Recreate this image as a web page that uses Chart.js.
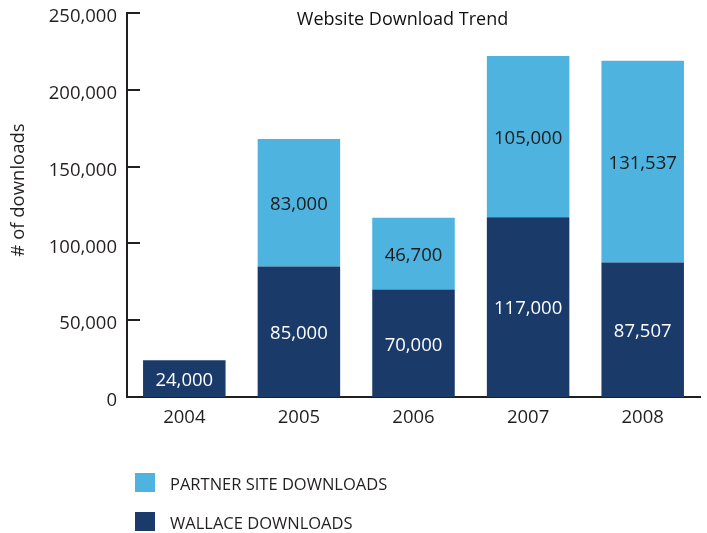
<!DOCTYPE html>
<html>
<head>
<meta charset="utf-8">
<title>Website Download Trend</title>
<script src="https://cdn.jsdelivr.net/npm/chart.js@4/dist/chart.umd.min.js"></script>
<style>
    html, body { margin: 0; padding: 0; background: #fff; }
    #wrap { position: relative; width: 707px; height: 533px; }
</style>
</head>
<body>
<div id="wrap"><canvas id="downloadChart" width="707" height="533"></canvas></div>
<script>
// --- DATA ---
const years = ['2004', '2005', '2006', '2007', '2008'];
const wallaceDownloads = [24000, 85000, 70000, 117000, 87507];
const partnerDownloads = [null, 83000, 46700, 105000, 131537];
const yMax = 250000;
const yStep = 50000;

const FONT = '"Open Sans", "Noto Sans", sans-serif';
const DARK_BLUE = '#1a3b6a';
const LIGHT_BLUE = '#4fb3e0';
const INK = '#231f20';

const fmt = v => Number(v).toLocaleString('en-US');

// --- PLUGINS ---
// small tick marks pointing into the plot
const innerTicks = {
    id: 'innerTicks',
    afterDraw(chart) {
        const { ctx, chartArea, scales } = chart;
        ctx.save();
        ctx.strokeStyle = INK;
        ctx.lineWidth = 2;
        scales.y.ticks.forEach(t => {
            const y = Math.round(scales.y.getPixelForValue(t.value));
            ctx.beginPath();
            ctx.moveTo(chartArea.left, y);
            ctx.lineTo(chartArea.left + 13, y);
            ctx.stroke();
        });
        ctx.restore();
    }
};

// values printed in the middle of each segment
const segmentLabels = {
    id: 'segmentLabels',
    afterDatasetsDraw(chart) {
        const { ctx } = chart;
        ctx.save();
        ctx.font = '18.5px ' + FONT;
        ctx.textAlign = 'center';
        ctx.textBaseline = 'middle';
        chart.data.datasets.forEach((ds, i) => {
            const meta = chart.getDatasetMeta(i);
            meta.data.forEach((bar, j) => {
                const v = ds.data[j];
                if (v == null) return;
                ctx.fillStyle = ds.labelColor;
                ctx.fillText(fmt(v), bar.x, (bar.y + bar.base) / 2 + 2);
            });
        });
        ctx.restore();
    }
};

// title, y axis title and legend
const extras = {
    id: 'extras',
    afterDraw(chart) {
        const { ctx, chartArea } = chart;
        ctx.save();
        ctx.fillStyle = '#111';
        ctx.textAlign = 'center';
        ctx.textBaseline = 'middle';
        ctx.font = '18px ' + FONT;
        ctx.fillText('Website Download Trend', (chartArea.left + chartArea.right) / 2 - 11, 20);

        ctx.fillStyle = INK;
        ctx.font = '18.5px ' + FONT;
        ctx.translate(19, 190);
        ctx.rotate(-Math.PI / 2);
        ctx.fillText('# of downloads', 0, 0);
        ctx.restore();

        // legend, top item is the upper stack
        ctx.save();
        ctx.font = '16.5px ' + FONT;
        ctx.textBaseline = 'middle';
        ctx.textAlign = 'left';
        const items = [...chart.data.datasets].reverse();
        items.forEach((ds, k) => {
            const y = 483 + k * 39;
            ctx.fillStyle = ds.backgroundColor;
            ctx.fillRect(135, y - 10, 20, 19);
            ctx.fillStyle = INK;
            ctx.fillText(ds.label, 170, y + 2);
        });
        ctx.restore();
    }
};

// --- CHART ---
function renderChart() {
    const ctx = document.getElementById('downloadChart').getContext('2d');
    new Chart(ctx, {
        type: 'bar',
        data: {
            labels: years,
            datasets: [
                {
                    label: 'WALLACE DOWNLOADS',
                    data: wallaceDownloads,
                    backgroundColor: DARK_BLUE,
                    labelColor: '#ffffff'
                },
                {
                    label: 'PARTNER SITE DOWNLOADS',
                    data: partnerDownloads,
                    backgroundColor: LIGHT_BLUE,
                    labelColor: '#1a1a1a'
                }
            ]
        },
        options: {
            responsive: false,
            animation: false,
            layout: { padding: { left: 0, top: 9, right: 7, bottom: 106 } },
            datasets: {
                bar: { barPercentage: 0.72, categoryPercentage: 1, borderWidth: 0 }
            },
            scales: {
                x: {
                    stacked: true,
                    grid: { display: false },
                    border: { display: true, color: INK, width: 2 },
                    ticks: { color: INK, font: { family: FONT, size: 18.5 }, padding: 2 },
                    afterFit: s => { s.height = 30; }
                },
                y: {
                    stacked: true,
                    min: 0,
                    max: yMax,
                    grid: { display: false },
                    border: { display: true, color: INK, width: 2 },
                    ticks: {
                        stepSize: yStep,
                        color: INK,
                        padding: 2,
                        labelOffset: 4,
                        font: { family: FONT, size: 18.5 },
                        callback: v => fmt(v)
                    },
                    afterFit: s => { s.width = 127; }
                }
            },
            plugins: {
                legend: { display: false },
                tooltip: { enabled: false }
            }
        },
        plugins: [innerTicks, segmentLabels, extras]
    });
}

document.addEventListener('DOMContentLoaded', renderChart);
</script>
</body>
</html>
